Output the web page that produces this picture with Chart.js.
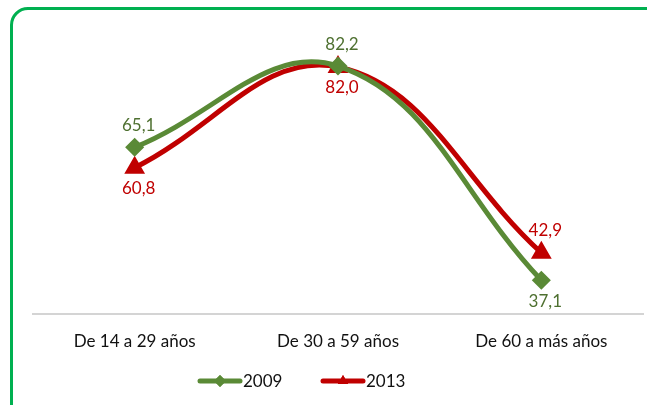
<!DOCTYPE html>
<html>
<head>
<meta charset="utf-8">
<script src="https://cdn.jsdelivr.net/npm/chart.js@4.4.1/dist/chart.umd.min.js"></script>
<style>
  html, body { margin:0; padding:0; background:#fff; overflow:hidden; }
  #wrap { position:relative; width:647px; height:405px; overflow:hidden; }
  #frame { position:absolute; left:10px; top:7px; width:700px; height:500px;
           border:3px solid #00b050; border-radius:18px; box-sizing:border-box; }
  canvas { position:absolute; left:0; top:0; }
</style>
</head>
<body>
<div id="wrap">
  <div id="frame"></div>
  <canvas id="c" width="647" height="405"></canvas>
</div>
<script>
const categories = ['De 14 a 29 años', 'De 30 a 59 años', 'De 60 a más años'];
const seriesNames = ['2009', '2013'];
const values2009 = [65.1, 82.2, 37.1];
const values2013 = [60.8, 82.0, 42.9];
const yMin = 30, yMax = 90;

const GREEN = '#5a8a36', GREEN_TXT = '#4e7030', RED = '#c00000', RED_TXT = '#c00000';
const FONT = 'Lato, "Open Sans", sans-serif';
const labelPos = [['top','top','bottom'], ['bottom','bottom','top']];

const fmt = v => v.toFixed(1).replace('.', ',');

const labelPlugin = {
  id: 'valueLabels',
  afterDatasetsDraw(chart) {
    const ctx = chart.ctx;
    ctx.save();
    ctx.font = '17px ' + FONT;
    ctx.textAlign = 'center';
    ctx.textBaseline = 'middle';
    chart.data.datasets.forEach((ds, di) => {
      const meta = chart.getDatasetMeta(di);
      meta.data.forEach((pt, i) => {
        const above = labelPos[di][i] === 'top';
        ctx.fillStyle = ds.labelColor;
        ctx.fillText(fmt(ds.data[i]), pt.x + 4, pt.y + (above ? -22 : 21));
      });
    });
    ctx.restore();
  }
};

const legendPlugin = {
  id: 'lineLegend',
  afterDraw(chart) {
    const ctx = chart.ctx;
    const y = 381;
    const starts = [200, 323];
    ctx.save();
    ctx.font = '17px ' + FONT;
    ctx.textBaseline = 'middle';
    ctx.textAlign = 'left';
    chart.data.datasets.forEach((ds, di) => {
      const x0 = starts[di];
      ctx.strokeStyle = ds.borderColor;
      ctx.lineWidth = 5;
      ctx.lineCap = 'round';
      ctx.beginPath(); ctx.moveTo(x0, y); ctx.lineTo(x0 + 40, y); ctx.stroke();
      ctx.fillStyle = ds.borderColor;
      Chart.helpers.drawPoint(ctx, {pointStyle: ds.pointStyle, radius: 6, rotation: 0, borderWidth: 0}, x0 + 20, y);
      ctx.fill();
      ctx.fillStyle = '#111';
      ctx.fillText(ds.label, x0 + 43, y + 1);
    });
    ctx.restore();
  }
};

new Chart(document.getElementById('c'), {
  type: 'line',
  data: {
    labels: categories,
    datasets: [
      { label: seriesNames[0], data: values2009, borderColor: GREEN, backgroundColor: GREEN,
        labelColor: GREEN_TXT, borderWidth: 5, pointStyle: 'rectRot', pointRadius: 6,
        pointBackgroundColor: GREEN, pointBorderColor: GREEN, tension: 0.4, fill: false },
      { label: seriesNames[1], data: values2013, borderColor: RED, backgroundColor: RED,
        labelColor: RED_TXT, borderWidth: 5, pointStyle: 'triangle', pointRadius: 7,
        pointBackgroundColor: RED, pointBorderColor: RED, tension: 0.4, fill: false }
    ]
  },
  options: {
    responsive: false,
    animation: false,
    events: [],
    layout: { autoPadding: false, padding: { left: 33, right: 4, top: 29, bottom: 0 } },
    plugins: { legend: { display: false }, tooltip: { enabled: false } },
    scales: {
      x: {
        offset: true,
        grid: { display: false, drawTicks: false },
        border: { display: true, color: '#d4d4d4', width: 2 },
        ticks: { color: '#111', font: { family: FONT, size: 17 }, padding: 17, maxRotation: 0 },
        afterFit: s => { s.height = 91; }
      },
      y: {
        display: false, min: yMin, max: yMax
      }
    }
  },
  plugins: [labelPlugin, legendPlugin]
});
</script>
</body>
</html>
